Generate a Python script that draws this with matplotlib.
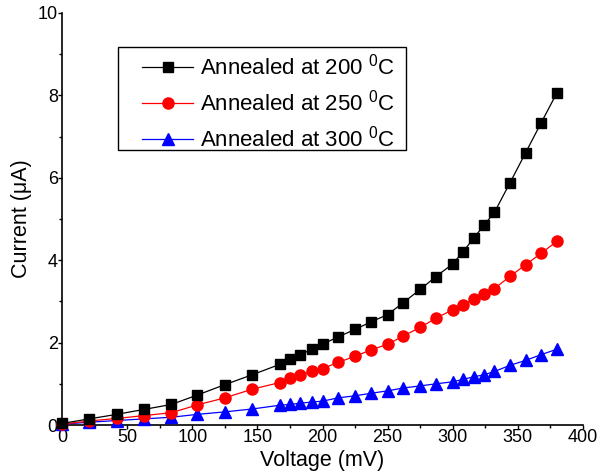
import matplotlib
matplotlib.use("Agg")
import matplotlib.pyplot as plt
from matplotlib.patches import Rectangle
from matplotlib.ticker import MultipleLocator

plt.rcParams['font.family'] = ['Liberation Sans', 'DejaVu Sans']
plt.rcParams['mathtext.fontset'] = 'custom'
plt.rcParams['mathtext.rm'] = 'Liberation Sans'
plt.rcParams['mathtext.default'] = 'regular'

# Voltage (mV)
voltage = [0, 21, 42, 63, 84, 104, 125, 146, 167, 175, 183, 192, 200, 212,
           225, 237, 250, 262, 275, 287, 300, 308, 316, 324, 332, 344, 356,
           368, 380]

# Current (uA)
cur_200 = [0.04, 0.15, 0.26, 0.38, 0.50, 0.73, 0.98, 1.22, 1.47, 1.60, 1.71,
           1.84, 1.96, 2.14, 2.32, 2.50, 2.68, 2.97, 3.29, 3.60, 3.91, 4.21,
           4.53, 4.85, 5.16, 5.88, 6.61, 7.34, 8.06]
cur_250 = [0.02, 0.10, 0.16, 0.23, 0.30, 0.49, 0.66, 0.87, 1.03, 1.13, 1.21,
           1.30, 1.37, 1.52, 1.67, 1.82, 1.96, 2.16, 2.37, 2.59, 2.80, 2.92,
           3.05, 3.19, 3.31, 3.61, 3.89, 4.17, 4.46]
cur_300 = [0.02, 0.07, 0.11, 0.15, 0.19, 0.26, 0.32, 0.39, 0.48, 0.50, 0.53,
           0.56, 0.58, 0.66, 0.71, 0.77, 0.83, 0.90, 0.95, 1.00, 1.05, 1.11,
           1.17, 1.22, 1.30, 1.45, 1.57, 1.71, 1.84]

labels = ["Annealed at 200 $^{0}$C", "Annealed at 250 $^{0}$C",
          "Annealed at 300 $^{0}$C"]

fig = plt.figure(figsize=(6.14, 4.76), dpi=100)
ax = fig.add_axes([0.101, 0.107, 0.8485, 0.866])

ax.plot(voltage, cur_200, color='black', marker='s', markersize=7.5,
        linewidth=0.9, label=labels[0], clip_on=False, zorder=5)
ax.plot(voltage, cur_250, color='red', marker='o', markersize=8,
        linewidth=0.9, label=labels[1], clip_on=False, zorder=4)
ax.plot(voltage, cur_300, color='blue', marker='^', markersize=8.5,
        linewidth=0.9, label=labels[2], clip_on=False, zorder=3)

ax.set_xlim(0, 400)
ax.set_ylim(0, 10)
ax.xaxis.set_major_locator(MultipleLocator(50))
ax.xaxis.set_minor_locator(MultipleLocator(25))
ax.yaxis.set_major_locator(MultipleLocator(2))
ax.yaxis.set_minor_locator(MultipleLocator(1))

ax.spines['top'].set_visible(False)
ax.spines['right'].set_visible(False)
ax.spines['left'].set_linewidth(1.2)
ax.spines['bottom'].set_linewidth(1.2)
ax.tick_params(which='major', direction='out', length=3, width=1,
               labelsize=13, pad=0)
ax.tick_params(which='minor', direction='out', length=2, width=1)

ax.set_xlabel("Voltage (mV)", fontsize=15.5, labelpad=3)
ax.set_ylabel("Current (μA)", fontsize=15.5, labelpad=4)

# legend box drawn by hand so the padding can match
box = Rectangle((0.1075, 0.667), 0.5525, 0.25, transform=ax.transAxes,
                facecolor='white', edgecolor='black', linewidth=1,
                zorder=6, clip_on=False)
ax.add_patch(box)
leg = ax.legend(loc='upper left', bbox_to_anchor=(0.1536, 0.900),
                borderaxespad=0, borderpad=0, fontsize=16, handlelength=2.3,
                handletextpad=0.3, frameon=False, labelspacing=0.45)
leg.set_zorder(7)

fig.savefig("out.png", dpi=100)
